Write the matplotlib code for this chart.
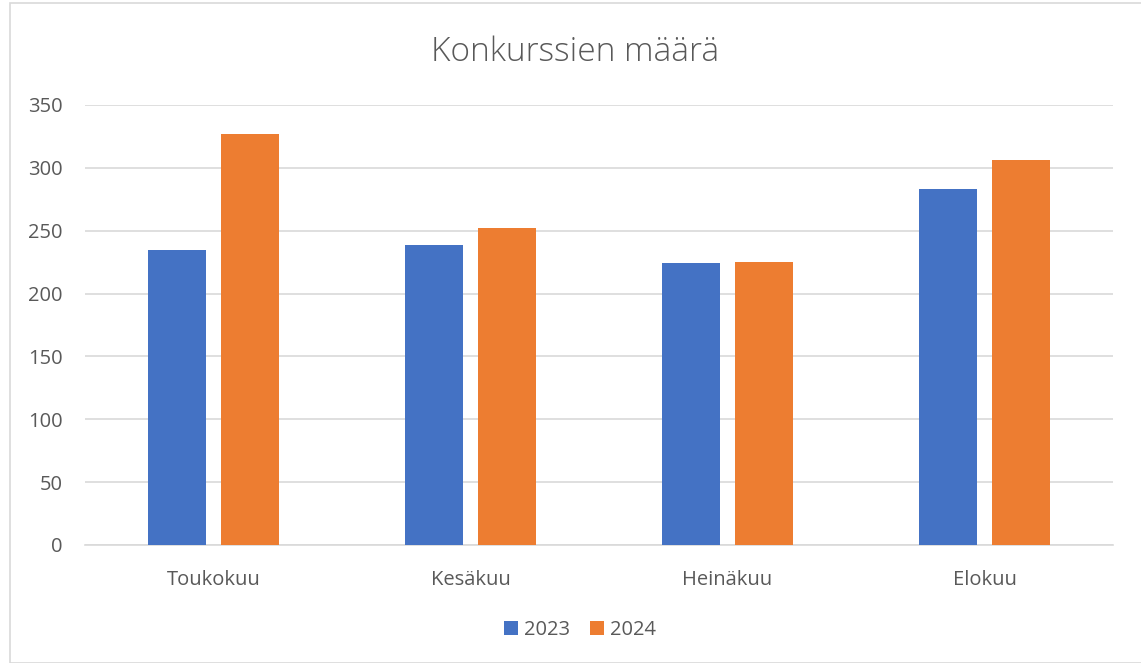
import matplotlib
matplotlib.use("Agg")
import matplotlib.pyplot as plt
from matplotlib.patches import Rectangle
import numpy as np

# data
months = ["Toukokuu", "Kesäkuu", "Heinäkuu", "Elokuu"]
values_2023 = [235, 239, 224, 283]
values_2024 = [327, 252, 225, 306]
series_names = ["2023", "2024"]
colors = ["#4472c4", "#ed7d31"]

plt.rcParams["font.family"] = ["Open Sans", "DejaVu Sans"]
text_color = "#595959"

fig = plt.figure(figsize=(11.41, 6.63), dpi=100)
ax = fig.add_axes([85 / 1141, 118 / 663, 1028 / 1141, 440 / 663])

x = np.arange(len(months))
w = 0.222
off = 0.142
ax.bar(x - off, values_2023, w, color=colors[0], label=series_names[0], zorder=3)
ax.bar(x + off, values_2024, w, color=colors[1], label=series_names[1], zorder=3)

ax.set_xlim(-0.5, len(months) - 0.5)
ax.set_ylim(0, 350)
ax.set_yticks(range(0, 351, 50))
ax.set_xticks(x)
ax.set_xticklabels(months)
ax.tick_params(axis="both", length=0, labelsize=14.5, colors=text_color)
ax.tick_params(axis="y", pad=16)
ax.tick_params(axis="x", pad=18)
ax.yaxis.grid(True, color="#d9d9d9", linewidth=1.2, zorder=0)
for s in ["top", "right", "left"]:
    ax.spines[s].set_visible(False)
ax.spines["bottom"].set_color("#d9d9d9")
ax.spines["bottom"].set_linewidth(1.2)

fig.text(575 / 1141, 1 - 52 / 663, "Konkurssien määrä", ha="center", va="center",
         fontsize=24, color=text_color, fontweight="light")

leg = fig.legend(loc="center", bbox_to_anchor=(580 / 1141, 1 - 630 / 663), ncol=2,
                 frameon=False, fontsize=14.5, handlelength=0.7, handleheight=0.7,
                 handletextpad=0.3, columnspacing=1.0)
for t in leg.get_texts():
    t.set_color(text_color)

fig.patches.append(Rectangle((10 / 1141, 0), 1.2, 1 - 3 / 663, transform=fig.transFigure,
                             fill=False, edgecolor="#d9d9d9", linewidth=1.2))

fig.savefig("out.png", dpi=100)
